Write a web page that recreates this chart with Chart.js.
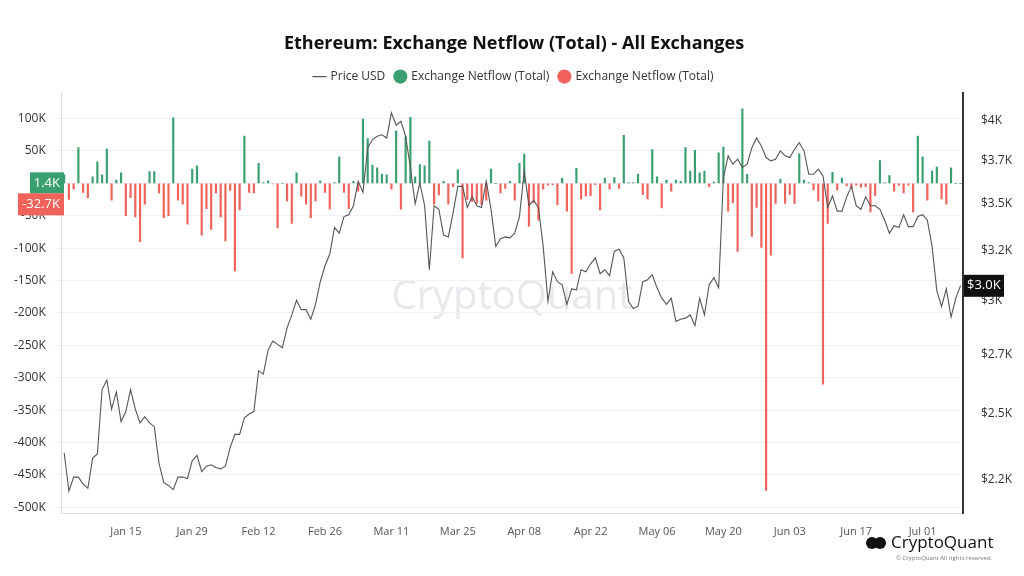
<!DOCTYPE html>
<html><head><meta charset="utf-8">
<script src="https://cdn.jsdelivr.net/npm/chart.js@4"></script>
<style>html,body{margin:0;padding:0;background:#fff;}#wrap{position:relative;width:1024px;height:576px;}</style>
</head><body><div id="wrap"><canvas id="c" width="1024" height="576"></canvas></div>
<script>
const startDate = [2024, 0, 2];
const xTickLabels = ["Jan 15","Jan 29","Feb 12","Feb 26","Mar 11","Mar 25","Apr 08","Apr 22","May 06","May 20","Jun 03","Jun 17","Jul 01"];
const priceUSD = [2350,2210,2260,2260,2235,2220,2330,2345,2600,2640,2520,2590,2470,2510,2600,2520,2465,2490,2465,2450,2310,2240,2230,2215,2260,2260,2255,2320,2340,2280,2300,2305,2295,2290,2300,2370,2420,2420,2485,2500,2510,2680,2665,2770,2810,2795,2780,2870,2930,3000,2955,2955,2910,2980,3090,
3170,3230,3370,3340,3430,3440,3490,3630,3565,3830,3880,3900,3910,3890,4050,3970,3995,3900,3710,3500,3620,3490,3150,3490,3470,3330,3320,3450,3600,3600,3480,3540,3490,3480,3630,3470,3270,3310,3320,3315,
3340,3430,3690,3490,3520,3480,3270,2995,3140,3090,3075,2980,3055,3050,3150,3140,3180,3210,3130,3150,3120,3245,3255,3210,2995,2960,2970,3090,3100,3125,3060,3010,2980,3010,2900,2910,2915,2930,2880,3010,2930,3075,3110,3060,3650,3780,3730,3760,3710,3730,3830,3890,3840,3770,3750,3760,3810,3780,3770,3820,3860,3810,3670,3670,3700,3660,3480,3545,3460,3460,3540,3600,3490,3470,3540,3490,3490,3470,3410,3340,3380,3370,3440,3375,3375,3430,3440,3410,3270,3045,2970,3055,2920,3010,3070];
// netflow in thousands of ETH
const netflowK = [13,-25,-9,55,-14,-22,10,33,13,53,-26,5,16,-50,-22,-52,-90,-32,18,18,-15,-53,-50,101,-26,-32,-63,22,27,-80,-39,-71,-15,-52,-89,-11,-135,-41,73,-14,-15,31,1,4,-1,-69,0,-27,-62,16,-20,-32,-53,-27,4,-14,-40,1,41,-14,-39,3,-12,99,69,28,24,14,13,-9,81,-40,72,102,10,29,27,65,-32,-18,3,-32,-5,21,-115,-25,-28,-31,-33,-26,22,0,-15,-8,3,
-26,31,45,-66,-30,-57,-9,-3,-2,-33,8,-43,-139,23,-24,-20,-19,-2,-41,8,-9,9,-8,74,1,1,14,-17,-24,52,10,-38,5,-12,5,3,55,19,51,16,19,-5,2,47,56,-43,-30,-105,115,14,-82,-37,-99,-474,-111,-31,6,-31,-17,-31,46,5,1,-10,-27,-310,-62,17,-10,8,-4,-8,-3,-6,-5,-44,-19,35,1,12,-12,-3,-15,-3,-44,73,41,-26,19,25,-24,-32,24,0,0];
const leftTicksK = [100,50,0,-50,-100,-150,-200,-250,-300,-350,-400,-450,-500];
const rightTicks = [2250,2500,2750,3000,3250,3500,3750,4000];
const rightTickLabels = ["$2.2K","$2.5K","$2.7K","$3K","$3.2K","$3.5K","$3.7K","$4K"];

const mon = ["Jan","Feb","Mar","Apr","May","Jun","Jul","Aug"];
const labels = priceUSD.map((_, i) => { const d = new Date(startDate[0], startDate[1], startDate[2] + i); return mon[d.getMonth()] + " " + String(d.getDate()).padStart(2, "0"); });
const GREEN = "#3a9f6e", RED = "#f0625a";

const overlay = {
  id: "overlay",
  beforeDraw(chart) {
    const { ctx } = chart;
    ctx.save();
    ctx.font = "40px 'Open Sans', sans-serif";
    ctx.fillStyle = "rgba(205,205,212,0.45)";
    ctx.textAlign = "center"; ctx.textBaseline = "middle";
    ctx.fillText("CryptoQuant", 512, 298);
    ctx.restore();
  },
  afterDraw(chart) {
    const { ctx } = chart;
    const yL = chart.scales.y, yR = chart.scales.y1;
    ctx.save();
    ctx.font = "13px 'Open Sans', sans-serif";
    ctx.textBaseline = "middle"; ctx.textAlign = "right";
    const z = yL.getPixelForValue(0);
    ctx.fillStyle = GREEN; ctx.fillRect(30, z - 11, 34, 21);
    ctx.fillStyle = "#fff"; ctx.fillText("1.4K", 60, z - 0.5);
    ctx.fillStyle = RED; ctx.fillRect(18, z + 10, 46, 22);
    ctx.fillStyle = "#fff"; ctx.fillText("-32.7K", 60, z + 21);
    const py = yR.getPixelForValue(priceUSD[priceUSD.length - 1]);
    ctx.fillStyle = "#111"; ctx.fillRect(964, py - 11, 40, 22);
    ctx.fillStyle = "#fff"; ctx.textAlign = "left"; ctx.fillText("$3.0K", 967, py);
    ctx.fillStyle = "#111";
    ctx.beginPath(); ctx.arc(872, 543, 6, 0, Math.PI * 2); ctx.fill();
    ctx.beginPath(); ctx.arc(880, 543, 6, 0, Math.PI * 2); ctx.fill();
    ctx.font = "17px 'Open Sans', sans-serif"; ctx.textAlign = "left";
    ctx.fillText("CryptoQuant", 891, 543);
    ctx.font = "6px 'Open Sans', sans-serif"; ctx.fillStyle = "#777";
    ctx.fillText("© CryptoQuant All rights reserved.", 896, 558);
    ctx.restore();
  }
};

new Chart(document.getElementById("c"), {
  data: {
    labels,
    datasets: [
      { type: "line", label: "Price USD", data: priceUSD, yAxisID: "y1", borderColor: "#555", borderWidth: 1.1, pointRadius: 0, tension: 0, order: 0, pointStyle: "line" },
      { type: "bar", label: "Exchange Netflow (Total)", data: netflowK.map(v => v >= 0 ? v * 1000 : null), yAxisID: "y", backgroundColor: GREEN, barThickness: 1.5, order: 1, pointStyle: "circle" },
      { type: "bar", label: "Exchange Netflow (Total)", data: netflowK.map(v => v < 0 ? v * 1000 : null), yAxisID: "y", backgroundColor: RED, barThickness: 1.5, order: 2, pointStyle: "circle" }
    ]
  },
  options: {
    responsive: false, animation: false,
    layout: { padding: { left: 6, right: 2, top: 0, bottom: 35 } },
    plugins: {
      title: { display: true, text: "Ethereum: Exchange Netflow (Total) - All Exchanges", font: { family: "'Open Sans', sans-serif", size: 18, weight: "bold" }, color: "#111", padding: { top: 33, bottom: 6 } },
      legend: { labels: { usePointStyle: true, boxWidth: 10, boxHeight: 10, font: { family: "'Open Sans', sans-serif", size: 12 }, color: "#333", padding: 10 } },
      tooltip: { enabled: false }
    },
    scales: {
      x: { stacked: true, grid: { display: false }, border: { color: "#ddd" },
        ticks: { autoSkip: false, maxRotation: 0, color: "#555", font: { family: "'Open Sans', sans-serif", size: 11 },
          callback(v) { const l = labels[v]; return xTickLabels.includes(l) ? l : null; } } },
      y: { stacked: true, position: "left", min: -510000, max: 140000,
        afterBuildTicks(s) { s.ticks = leftTicksK.map(v => ({ value: v * 1000 })); },
        grid: { color: "#f0f0f0" }, border: { display: true, color: "#ddd" },
        ticks: { color: "#333", font: { family: "'Open Sans', sans-serif", size: 12 }, callback: v => (v / 1000) + "K", padding: 8 } },
      y1: { type: "logarithmic", position: "right", min: 2131, max: 4183,
        afterBuildTicks(s) { s.ticks = rightTicks.map(v => ({ value: v })); },
        grid: { display: false }, border: { color: "#333", width: 2 },
        ticks: { color: "#333", font: { family: "'Open Sans', sans-serif", size: 12 }, padding: 10, callback: v => rightTickLabels[rightTicks.indexOf(v)] } }
    }
  },
  plugins: [overlay]
});
</script></body></html>
